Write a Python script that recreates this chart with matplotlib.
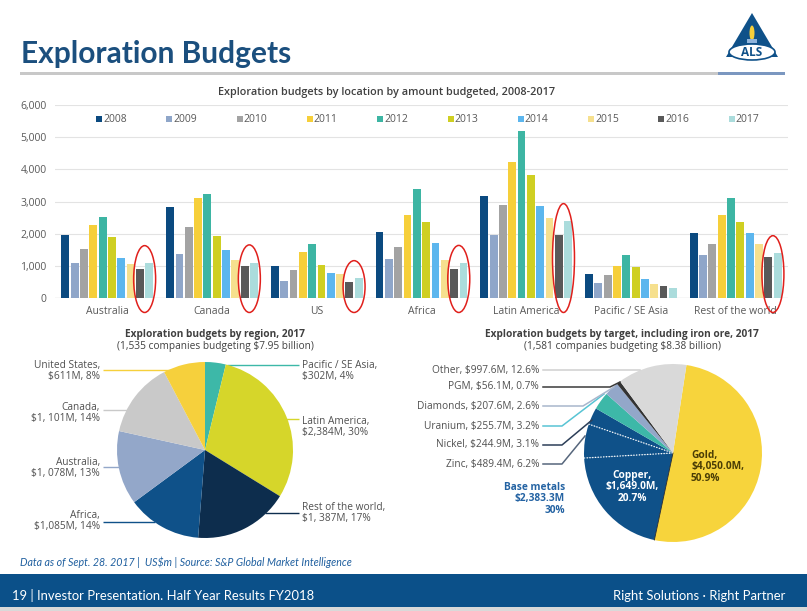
import matplotlib
matplotlib.use("Agg")
import matplotlib.pyplot as plt
import numpy as np
from matplotlib.patches import Polygon, Ellipse, Rectangle

plt.rcParams['text.parse_math'] = False

# ---------------- data ----------------
regions = ['Australia', 'Canada', 'US', 'Africa', 'Latin America', 'Pacific / SE Asia', 'Rest of the world']
years = ['2008', '2009', '2010', '2011', '2012', '2013', '2014', '2015', '2016', '2017']
australia = [1970, 1080, 1510, 2260, 2510, 1890, 1245, 1070, 895, 1078]
canada = [2826, 1357, 2200, 3114, 3237, 1922, 1480, 1180, 1000, 1101]
us = [997, 524, 874, 1418, 1675, 1038, 791, 740, 504, 611]
africa = [2045, 1213, 1573, 2590, 3392, 2364, 1696, 1182, 904, 1085]
latin_america = [3176, 1953, 2878, 4214, 5200, 3813, 2847, 2477, 1973, 2384]
pacific = [740, 473, 709, 997, 1326, 956, 586, 421, 360, 302]
rest_of_world = [2035, 1346, 1686, 2580, 3104, 2374, 2035, 1665, 1264, 1387]
circled = [True, True, True, True, True, False, True]
year_colors = ['#0b4a80', '#8fa6c9', '#a3a3a3', '#f6cf3a', '#3db5a3',
               '#cfcf22', '#5cb6ee', '#f6e08e', '#595959', '#abdcdc']

region_pie_labels = ['Pacific / SE Asia,\n$302M, 4%', 'Latin America,\n$2,384M, 30%',
                     'Rest of the world,\n$1, 387M, 17%', 'Africa,\n$1,085M, 14%',
                     'Australia,\n$1, 078M, 13%', 'Canada,\n$1, 101M, 14%',
                     'United States,\n$611M, 8%']
region_pie_values = [302, 2384, 1387, 1085, 1078, 1101, 611]
region_pie_colors = ['#3db8a8', '#d6d62a', '#0d2d4d', '#0f5189', '#93a7c9', '#c9c9c9', '#f6d03c']

target_names = ['Gold', 'Copper', 'Zinc', 'Nickel', 'Uranium', 'Diamonds', 'PGM', 'Other']
target_values = [4050.0, 1649.0, 489.4, 244.9, 255.7, 207.6, 56.1, 997.6]
target_pcts = [50.9, 20.7, 6.2, 3.1, 3.2, 2.6, 0.7, 12.6]
target_colors = ['#f7d43c', '#0f5189', '#0f5189', '#0f5189', '#3db8a8', '#93a7c9', '#333333', '#d9d9d9']

W, H = 807, 611
fig = plt.figure(figsize=(W / 100, H / 100), dpi=100)

def fa(x0, y0, x1, y1):
    return [x0 / W, 1 - y1 / H, (x1 - x0) / W, (y1 - y0) / H]

def pixel_axes(z):
    a = fig.add_axes([0, 0, 1, 1], zorder=z)
    a.set_xlim(0, W)
    a.set_ylim(H, 0)
    a.axis('off')
    a.patch.set_alpha(0)
    return a

bg = pixel_axes(0)

NARROW = ['Lato', 'DejaVu Sans']
SANS = ['Open Sans', 'DejaVu Sans']

# ---------------- header ----------------
bg.text(21, 63, 'Exploration Budgets', family=NARROW, weight='bold', fontsize=21.5,
        color='#1b4f7e', va='baseline', ha='left')
bg.add_patch(Rectangle((20, 71.5), 698, 3, color='#c8c8c8', lw=0))
bg.add_patch(Rectangle((718, 71.5), 67, 3, color='#7b97c0', lw=0))
# logo
bg.add_patch(Polygon([(752, 13), (726, 57), (778, 57)], closed=True, color='#0f5189', lw=0))
bg.add_patch(Ellipse((752, 33), 5, 15, color='#f6cf3a', lw=0))
bg.add_patch(Rectangle((747, 39), 10, 4, color='#8fb4dc', lw=0))
bg.add_patch(Ellipse((752, 52), 46, 16, facecolor='white', edgecolor='#0f5189', lw=1.2))
bg.text(752, 52.5, 'ALS', family=SANS, weight='bold', fontsize=8.5, color='#0f5189',
        ha='center', va='center')

# ---------------- bar chart ----------------
ax = fig.add_axes(fa(55, 105, 788, 298), zorder=1)
ax.patch.set_alpha(0)
series = [australia, canada, us, africa, latin_america, pacific, rest_of_world]
data = np.array(series)  # regions x years
x = np.arange(len(regions))
pitch, bw = 0.089, 0.075
for j, yr in enumerate(years):
    ax.bar(x + (j - 4.5) * pitch, data[:, j], width=bw, color=year_colors[j], zorder=3)
ax.set_xlim(-0.5, len(regions) - 0.5)
ax.set_ylim(0, 6000)
ax.set_yticks(np.arange(0, 6001, 1000))
ax.set_yticklabels([f'{v:,}' for v in range(0, 6001, 1000)])
ax.set_xticks(x)
ax.set_xticklabels(regions)
ax.tick_params(length=0, labelsize=7.5, labelcolor='#595959', pad=6)
ax.tick_params(axis='y', pad=6)
for lab in ax.get_xticklabels() + ax.get_yticklabels():
    lab.set_family(SANS)
ax.grid(axis='y', color='#e3e3e3', lw=0.8, zorder=0)
for s in ax.spines.values():
    s.set_visible(False)
ax.axhline(0, color='#d0d0d0', lw=0.9, zorder=2)
# hand-drawn red circles around 2016/2017 bars
for i, c in enumerate(circled):
    if not c:
        continue
    xc = x[i] + (8.5 - 4.5) * pitch
    top = max(data[i, 8], data[i, 9]) + 550
    bot = -450
    ax.add_patch(Ellipse((xc, (top + bot) / 2), 0.21, top - bot, fill=False,
                         edgecolor='#e0201c', lw=1.1, clip_on=False, zorder=5))

bg.text(387, 92, 'Exploration budgets by location by amount budgeted, 2008-2017',
        family=SANS, weight='semibold', fontsize=7.8, color='#404040', ha='center', va='center')
for j, yr in enumerate(years):
    lx = 99 + j * 70.3
    bg.add_patch(Rectangle((lx - 3, 116), 6, 6, color=year_colors[j], lw=0))
    bg.text(lx + 4, 119.5, yr, family=SANS, fontsize=7.5, color='#595959', ha='left', va='center')

# ---------------- pie 1 ----------------
c1x, c1y, r1 = 205, 450, 88
p1 = fig.add_axes(fa(c1x - r1, c1y - r1, c1x + r1, c1y + r1), zorder=1)
p1.pie(region_pie_values, colors=region_pie_colors, startangle=90, counterclock=False,
       wedgeprops=dict(lw=0))
p1.set_xlim(-1, 1)
p1.set_ylim(-1, 1)
p1.set_aspect('equal')

bg.text(215, 335, 'Exploration budgets by region, 2017', family=SANS, weight='bold',
        fontsize=7.3, color='#404040', ha='center', va='center')
bg.text(215, 346, '(1,535 companies budgeting $7.95 billion)', family=SANS,
        fontsize=7.3, color='#404040', ha='center', va='center')

# label positions: (text x, top line y, side, leader y)
p1_layout = [(302, 365, 'right', 365), (302, 421, 'right', 419), (302, 507, 'right', 513),
             (100, 515, 'left', 522), (100, 462, 'left', 467), (100, 407, 'left', 410),
             (100, 365, 'left', 370)]
for lab, col, (tx, ty, side, ly) in zip(region_pie_labels, region_pie_colors, p1_layout):
    dx = np.sqrt(max(r1 ** 2 - (ly - c1y) ** 2, 0))
    if side == 'right':
        bg.plot([c1x + dx - 1, tx - 3], [ly, ly], color=col, lw=1, solid_capstyle='butt')
        bg.text(tx, ty - 5, lab, family=SANS, fontsize=7.3, color='#505050', ha='left',
                va='top', linespacing=1.05)
    else:
        bg.plot([tx + 3, c1x - dx + 1], [ly, ly], color=col, lw=1, solid_capstyle='butt')
        bg.text(tx, ty - 5, lab, family=SANS, fontsize=7.3, color='#505050', ha='right',
                va='top', linespacing=1.05, multialignment='right')

# ---------------- pie 2 ----------------
c2x, c2y, r2 = 673, 453, 89
p2 = fig.add_axes(fa(c2x - r2, c2y - r2, c2x + r2, c2y + r2), zorder=1)
wedges, _ = p2.pie(target_values, colors=target_colors, startangle=81.3, counterclock=False,
                   wedgeprops=dict(lw=0))
p2.set_xlim(-1, 1)
p2.set_ylim(-1, 1)
p2.set_aspect('equal')
# dotted separators within base metals
for k in (1, 2):
    ang = np.deg2rad(wedges[k].theta1)
    p2.plot([0, np.cos(ang)], [0, np.sin(ang)], color='white', lw=0.9, ls=(0, (1, 1.2)))
p2.plot([0, np.cos(np.deg2rad(wedges[0].theta1))], [0, np.sin(np.deg2rad(wedges[0].theta1))],
        color='#2a2a2a', lw=0.6)

bg.text(622, 334, 'Exploration budgets by target, including iron ore, 2017', family=SANS,
        weight='bold', fontsize=7.3, color='#404040', ha='center', va='center')
bg.text(622, 346, '(1,581 companies budgeting $8.38 billion)', family=SANS,
        fontsize=7.3, color='#404040', ha='center', va='center')

small_layout = {
    'Other': (370, [(543, 370), (640, 370)], '#d0d0d0'),
    'PGM': (387, [(543, 387), (610, 387), (620, 382)], '#3a3a3a'),
    'Diamonds': (406, [(543, 406), (583, 406), (614, 387)], '#a8b6cc'),
    'Uranium': (426, [(543, 426), (562, 426), (604, 394)], '#58c4d4'),
    'Nickel': (445, [(543, 445), (562, 445), (592, 420)], '#2c3e58'),
    'Zinc': (464, [(543, 464), (562, 464), (585, 436)], '#56667c'),
}
fg = pixel_axes(2)
for name, val, pct in zip(target_names, target_values, target_pcts):
    if name not in small_layout:
        continue
    ly, pts, col = small_layout[name]
    bg.text(539, ly, f'{name}, ${val:,.1f}M, {pct}%', family=SANS, fontsize=7.3,
            color='#505050', ha='right', va='center')
    fg.plot([p[0] for p in pts], [p[1] for p in pts], color=col, lw=1.1)

fg.text(691, 467, f'Gold,\n${target_values[0]:,.1f}M,\n{target_pcts[0]}%', family=SANS,
        weight='bold', fontsize=7.3, color='#4a3d05', ha='left', va='center', linespacing=1.05)
fg.text(632, 487, f'Copper,\n${target_values[1]:,.1f}M,\n{target_pcts[1]}%', family=SANS,
        weight='bold', fontsize=7.3, color='white', ha='center', va='center', linespacing=1.05)
base_total = sum(target_values[1:4])
fg.text(565, 499, f'Base metals\n${base_total:,.1f}M\n30%', family=SANS, weight='bold',
        fontsize=7.3, color='#2463a3', ha='right', va='center', linespacing=1.05,
        multialignment='right')

# ---------------- footer ----------------
bg.text(20, 562, 'Data as of Sept. 28. 2017 |  US$m | Source: S&P Global Market Intelligence',
        family=NARROW, style='italic', fontsize=7.7, color='#1f5f9f', ha='left', va='center')
bg.add_patch(Rectangle((0, 574), W, 33, color='#0b5089', lw=0))
bg.add_patch(Rectangle((0, 607), W, 4, color='#d9d9d9', lw=0))
bg.text(12, 596, '19 | Investor Presentation. Half Year Results FY2018', family=NARROW,
        fontsize=9.4, color='white', ha='left', va='center')
bg.text(785, 596, 'Right Solutions \u00b7 Right Partner', family=NARROW,
        fontsize=9.4, color='white', ha='right', va='center')

fig.savefig('out.png', dpi=100)
